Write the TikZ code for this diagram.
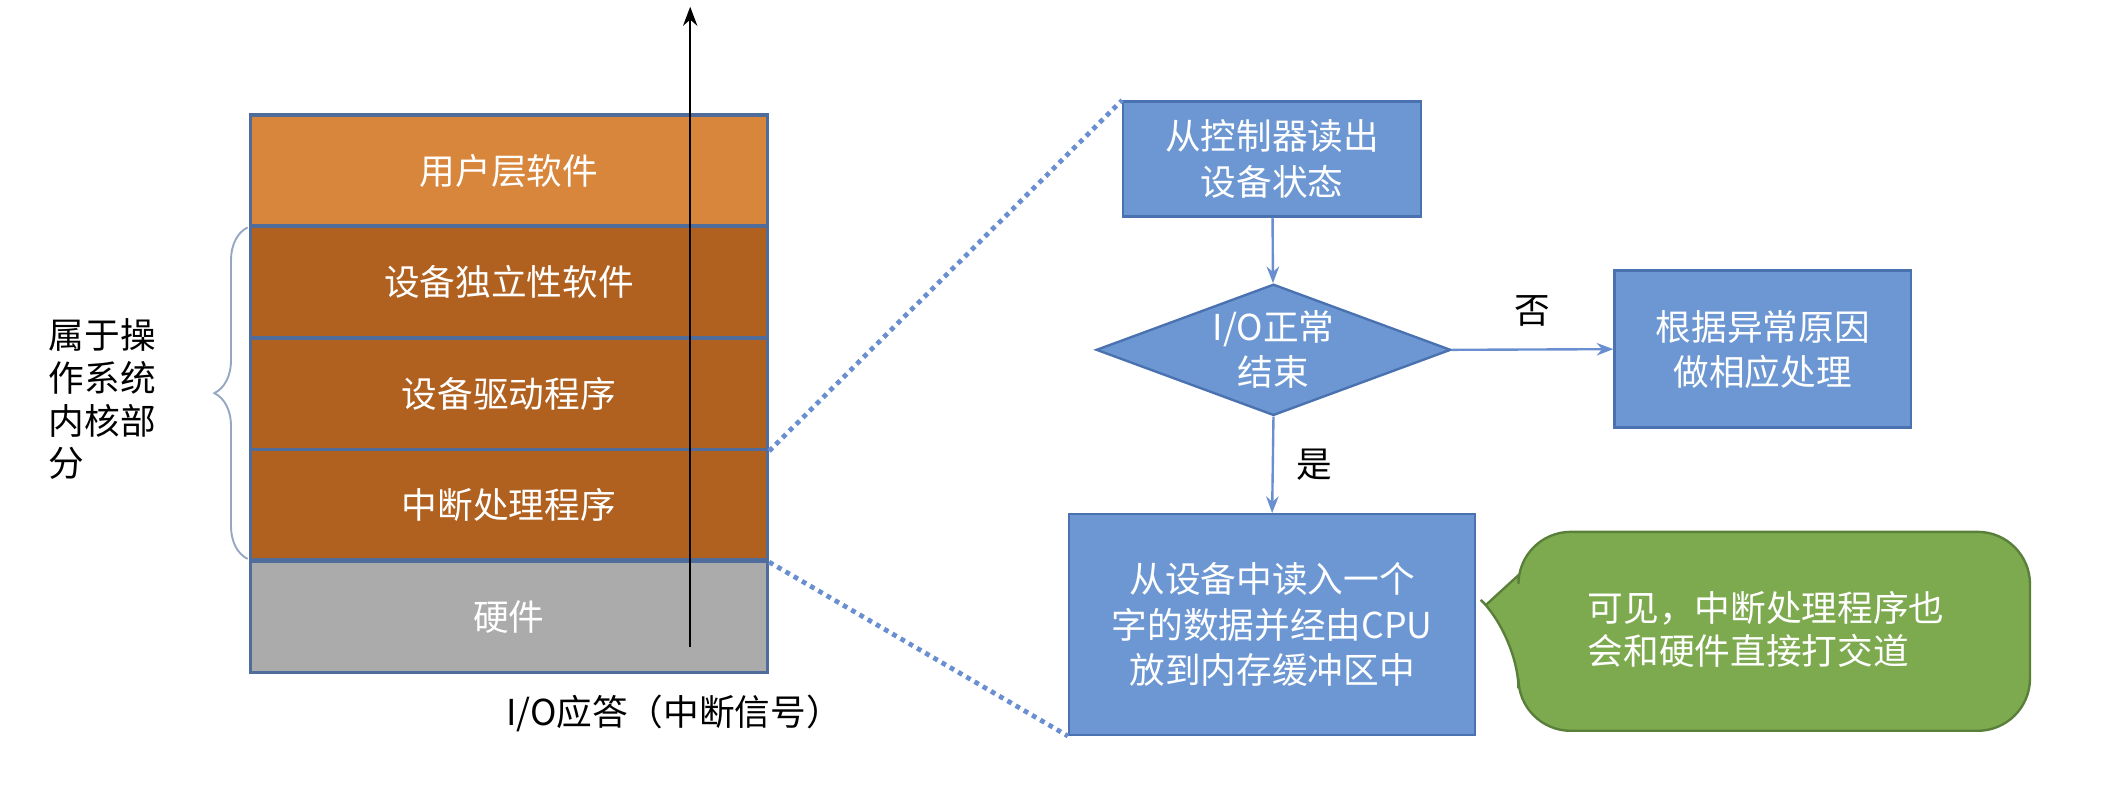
\documentclass[tikz,border=0pt]{standalone}
\usepackage{fontspec}
\setmainfont{Noto Sans CJK SC}
\usetikzlibrary{shapes.geometric,decorations.pathreplacing,arrows.meta}
\definecolor{orng}{HTML}{D9863D}
\definecolor{brwn}{HTML}{B0601F}
\definecolor{gry}{HTML}{ABABAB}
\definecolor{stk}{HTML}{4F6C9A}
\definecolor{bl}{HTML}{6C97D3}
\definecolor{blb}{HTML}{4A72B0}
\definecolor{grn}{HTML}{7DAA4E}
\definecolor{grnb}{HTML}{5A7F3A}
\definecolor{dot}{HTML}{6A8FD0}
\tikzset{
 layer/.style={draw=stk,line width=1.5pt,minimum width=382*0.02cm,minimum height=82*0.02cm,text=white,font=\fontsize{15}{18}\selectfont,inner sep=0pt},
 flowbox/.style={draw=blb,fill=bl,line width=1pt,text=white,font=\fontsize{15}{19}\selectfont,align=center,inner sep=0pt},
 conn/.style={draw=dot,line width=1pt,-{Stealth[length=7pt]}},
 dots/.style={draw=dot,line width=2pt,dotted},
 lbl/.style={font=\fontsize{15}{18}\selectfont}
}
\begin{document}
\begin{tikzpicture}[x=0.02cm,y=-0.02cm]
\useasboundingbox (0,0) rectangle (1568,595);
\node[layer,fill=orng] (l1) at (376,126) {用户层软件};
\node[layer,fill=brwn] (l2) at (376,208.5) {设备独立性软件};
\node[layer,fill=brwn] (l3) at (376,291) {设备驱动程序};
\node[layer,fill=brwn] (l4) at (376,373) {中断处理程序};
\node[layer,fill=gry] (l5) at (376,456) {硬件};
\coordinate (as) at (510,478);
\coordinate (ae) at (510,5);
\draw[-{Stealth[length=8pt]},line width=1pt] (as) -- (ae);
\node[lbl] (io) at (498,527) {I/O应答（中断信号）};
\draw[decorate,decoration={brace,amplitude=14pt},draw=stk!60,line width=0.8pt] (183,413) -- (183,168);
\node[lbl,align=left,anchor=west] (kern) at (30,295) {属于操\\作系统\\内核部\\分};
\node[flowbox,minimum width=220*0.02cm,minimum height=85*0.02cm] (b1) at (940,117.5) {从控制器读出\\设备状态};
\node[flowbox,diamond,aspect=2.7,minimum width=262*0.02cm,minimum height=97*0.02cm] (d) at (941,258.5) {I/O正常\\结束};
\node[flowbox,minimum width=219*0.02cm,minimum height=116*0.02cm] (b2) at (1302.5,258) {根据异常原因\\做相应处理};
\node[flowbox,minimum width=300*0.02cm,minimum height=163*0.02cm] (b3) at (940,461.5) {从设备中读入一个\\字的数据并经由CPU\\放到内存缓冲区中};
\draw[conn] (b1) -- (d);
\draw[conn] (d.east) -- (b2.west) node[midway,above=6pt,lbl,text=black] (no) {否};
\draw[conn] (d.south) -- (b3.north) node[midway,right=6pt,lbl,text=black] (yes) {是};
\draw[dots] (l3.south east) -- (b1.north west);
\draw[dots] (l4.south east) -- (b3.south west);
\draw[fill=grn,draw=grnb,line width=1pt,rounded corners=22] (1122,425) -- (1122,393) -- (1500,393) -- (1500,540) -- (1122,540) -- (1122,470) [sharp corners] -- (1098,447) -- cycle;
\node[lbl,text=white,align=left] (cv) at (1305,465) {可见，中断处理程序也\\会和硬件直接打交道};
\end{tikzpicture}
\end{document}
